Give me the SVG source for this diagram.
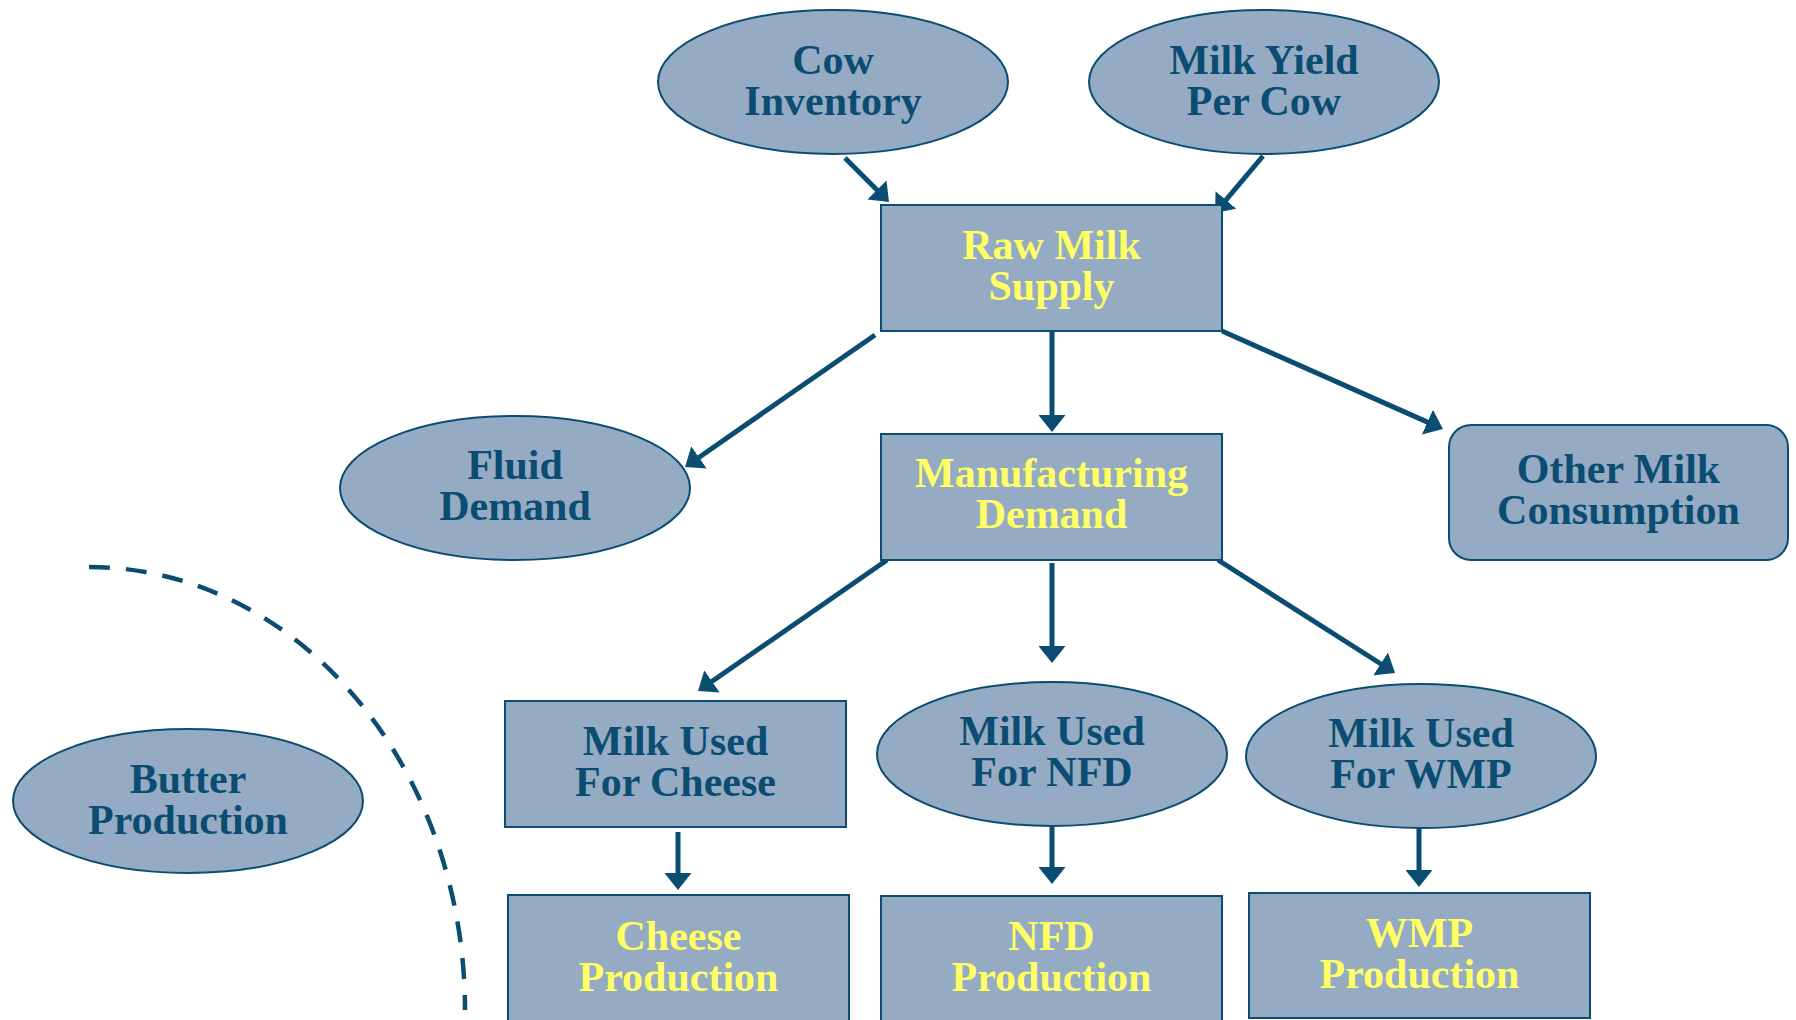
<svg xmlns="http://www.w3.org/2000/svg" width="1796" height="1020" viewBox="0 0 1796 1020">
  <style>
    .node { fill: #94abc3; stroke: #0b4d72; stroke-width: 2; }
    .lbl { font-family: "Liberation Serif", "Times New Roman", serif; font-weight: bold; font-size: 42px; text-anchor: middle; }
    .dark { fill: #0b4d72; }
    .yel { fill: #ffff66; }
    .conn { stroke: #0b4d72; stroke-width: 5; fill: none; }
    .dash { stroke: #0b4d72; stroke-width: 4.5; fill: none; stroke-dasharray: 21 16; }
  </style>
  <defs>
    <marker id="head" viewBox="0 0 17 27" markerUnits="userSpaceOnUse" markerWidth="17" markerHeight="27" refX="5" refY="13.5" orient="auto">
      <path d="M0,0 L17,13.5 L0,27 Z" fill="#0b4d72"/>
    </marker>
  </defs>

  <rect width="1796" height="1020" fill="#ffffff"/>

  <!-- connectors: each line stops 12px short of its tip, the marker supplies the rest -->
  <g id="connectors">
    <line class="conn" x1="845" y1="158" x2="880.5" y2="193.5" marker-end="url(#head)"/>
    <line class="conn" x1="1263" y1="156" x2="1222.7" y2="203.8" marker-end="url(#head)"/>
    <line class="conn" x1="875" y1="335" x2="694.9" y2="460.2" marker-end="url(#head)"/>
    <line class="conn" x1="1052" y1="327" x2="1052" y2="420" marker-end="url(#head)"/>
    <line class="conn" x1="1222" y1="331" x2="1432" y2="424.1" marker-end="url(#head)"/>
    <line class="conn" x1="887" y1="560" x2="707.9" y2="684.2" marker-end="url(#head)"/>
    <line class="conn" x1="1052" y1="563" x2="1052" y2="651" marker-end="url(#head)"/>
    <line class="conn" x1="1218" y1="560" x2="1384.9" y2="666.5" marker-end="url(#head)"/>
    <line class="conn" x1="678" y1="832" x2="678" y2="878" marker-end="url(#head)"/>
    <line class="conn" x1="1052" y1="826" x2="1052" y2="872" marker-end="url(#head)"/>
    <line class="conn" x1="1419" y1="828" x2="1419" y2="875" marker-end="url(#head)"/>
    <!-- dashed boundary arc -->
    <path class="dash" d="M89,567 A376,443 0 0 1 465,1010"/>
  </g>

  <g id="cow-inventory">
    <ellipse class="node" cx="833" cy="82" rx="175" ry="72"/>
    <text class="lbl dark"><tspan x="833" y="74">Cow</tspan><tspan x="833" y="115">Inventory</tspan></text>
  </g>

  <g id="milk-yield">
    <ellipse class="node" cx="1264" cy="82" rx="175" ry="72"/>
    <text class="lbl dark"><tspan x="1264" y="74">Milk Yield</tspan><tspan x="1264" y="115">Per Cow</tspan></text>
  </g>

  <g id="raw-milk-supply">
    <rect class="node" x="881" y="205" width="341" height="126"/>
    <text class="lbl yel"><tspan x="1051.5" y="259">Raw Milk</tspan><tspan x="1051.5" y="300">Supply</tspan></text>
  </g>

  <g id="fluid-demand">
    <ellipse class="node" cx="515" cy="488" rx="175" ry="72"/>
    <text class="lbl dark"><tspan x="515" y="479">Fluid</tspan><tspan x="515" y="520">Demand</tspan></text>
  </g>

  <g id="manufacturing-demand">
    <rect class="node" x="881" y="434" width="341" height="126"/>
    <text class="lbl yel"><tspan x="1051.5" y="487">Manufacturing</tspan><tspan x="1051.5" y="528">Demand</tspan></text>
  </g>

  <g id="other-milk-consumption">
    <rect class="node" x="1449" y="425" width="339" height="135" rx="22" ry="22"/>
    <text class="lbl dark"><tspan x="1618.5" y="483">Other Milk</tspan><tspan x="1618.5" y="524">Consumption</tspan></text>
  </g>

  <g id="butter-production">
    <ellipse class="node" cx="188" cy="801" rx="175" ry="72"/>
    <text class="lbl dark"><tspan x="188" y="793">Butter</tspan><tspan x="188" y="834">Production</tspan></text>
  </g>

  <g id="milk-for-cheese">
    <rect class="node" x="505" y="701" width="341" height="126"/>
    <text class="lbl dark"><tspan x="675.5" y="755">Milk Used</tspan><tspan x="675.5" y="796">For Cheese</tspan></text>
  </g>

  <g id="milk-for-nfd">
    <ellipse class="node" cx="1052" cy="754" rx="175" ry="72"/>
    <text class="lbl dark"><tspan x="1052" y="745">Milk Used</tspan><tspan x="1052" y="786">For NFD</tspan></text>
  </g>

  <g id="milk-for-wmp">
    <ellipse class="node" cx="1421" cy="756" rx="175" ry="72"/>
    <text class="lbl dark"><tspan x="1421" y="747">Milk Used</tspan><tspan x="1421" y="788">For WMP</tspan></text>
  </g>

  <g id="cheese-production">
    <rect class="node" x="508" y="895" width="341" height="140"/>
    <text class="lbl yel"><tspan x="678.5" y="950">Cheese</tspan><tspan x="678.5" y="991">Production</tspan></text>
  </g>

  <g id="nfd-production">
    <rect class="node" x="881" y="896" width="341" height="140"/>
    <text class="lbl yel"><tspan x="1051.5" y="950">NFD</tspan><tspan x="1051.5" y="991">Production</tspan></text>
  </g>

  <g id="wmp-production">
    <rect class="node" x="1249" y="893" width="341" height="125"/>
    <text class="lbl yel"><tspan x="1419.5" y="947">WMP</tspan><tspan x="1419.5" y="988">Production</tspan></text>
  </g>
</svg>
